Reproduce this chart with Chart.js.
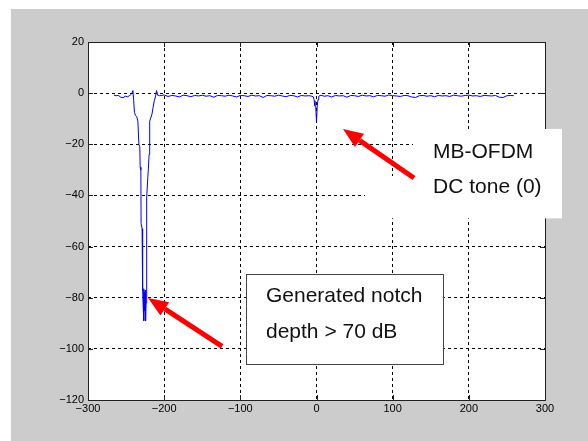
<!DOCTYPE html>
<html>
<head>
<meta charset="utf-8">
<script src="https://cdn.jsdelivr.net/npm/chart.js@4.4.1/dist/chart.umd.min.js"></script>
<style>
  html, body { margin: 0; padding: 0; background: #ffffff; overflow: hidden; }
  #wrap { position: relative; width: 588px; height: 441px; }
</style>
</head>
<body>
<div id="wrap"><canvas id="chart"></canvas></div>
<script>
const subcarrier = [
  -266, -263, -260, -257, -254, -251, -248, -245, -242.5, -241,
  -240, -239, -237.5, -236, -234.5, -233.2, -232, -231.5, -230.6, -230.3,
  -229, -228.6, -228, -227.5, -227, -226.6, -226, -225.5, -225, -224.4,
  -223.8, -223.1, -222.8, -221.5, -220.8, -219.8, -219, -217.5, -216, -214.5,
  -213, -211.5, -210, -208.5, -206, -200, -195, -190, -185, -180,
  -175, -170, -165, -160, -155, -150, -145, -140, -135, -130,
  -125, -120, -115, -110, -105, -100, -95, -90, -85, -80,
  -75, -70, -65, -60, -55, -50, -45, -40, -35, -30,
  -25, -20, -15, -10, -6, -4, -3, -2, -1, 0,
  1, 2, 3, 6, 10, 15, 20, 25, 30, 35,
  40, 45, 50, 55, 60, 65, 70, 75, 80, 85,
  90, 95, 100, 105, 110, 115, 120, 125, 130, 135,
  140, 145, 150, 155, 160, 165, 170, 175, 180, 185,
  190, 195, 200, 205, 210, 215, 220, 225, 230, 235,
  240, 245, 250, 255, 259
];
const gainDb = [
  -0.8, -1.0, -0.9, -1.6, -1.8, -1.2, -1.4, -0.9, -0.2, 1.0,
  -3, -7.5, -8.8, -9.2, -11, -20, -21, -29, -30, -51,
  -53, -76, -77, -84, -76.5, -89, -78, -85, -77, -89,
  -82, -80, -41, -33, -30, -24, -11, -9.6, -8.2, -5.5,
  -3, -1.5, 1.0, -0.8, -1.0, -0.7, -1.3, -0.9, -1.1, -1.5,
  -0.8, -1.0, -1.4, -0.9, -1.1, -0.8, -1.2, -1.0, -1.6, -0.9,
  -1.0, -1.2, -0.8, -1.1, -1.5, -0.9, -1.0, -1.3, -0.8, -1.1,
  -1.0, -1.7, -0.9, -1.0, -1.2, -0.8, -1.1, -1.4, -0.9, -1.0,
  -1.5, -0.9, -1.1, -1.0, -1.2, -1.5, -3, -5, -5.5, -11.3,
  -5, -2.5, -1.2, -0.8, -1.2, -1.0, -1.5, -0.9, -1.1, -1.0,
  -1.6, -0.9, -1.0, -1.3, -0.8, -1.1, -1.0, -1.4, -0.9, -1.0,
  -1.2, -0.7, -1.0, -1.1, -1.3, -0.9, -1.0, -1.5, -1.7, -1.0,
  -0.9, -1.2, -1.0, -1.4, -0.9, -1.1, -1.0, -1.3, -0.8, -1.0,
  -1.2, -0.9, -0.8, -1.1, -1.0, -1.3, -0.9, -1.0, -1.1, -0.9,
  -1.6, -1.7, -1.0, -0.9, -1.0
];

// axis limits / tick steps
const xRange = [-300, 300];
const yRange = [-120, 20];
const xStep = 100;
const yStep = 20;

// annotation texts
const notchText = ['Generated notch', 'depth > 70 dB'];
const dcText = ['MB-OFDM', 'DC tone (0)'];

const RED = '#ff0000';
const FONT = '"Liberation Sans", Arial, Helvetica, sans-serif';

const points = subcarrier.map((x, i) => ({ x: x, y: gainDb[i] }));

function drawArrow(ctx, x0, y0, x1, y1) {
  const ang = Math.atan2(y1 - y0, x1 - x0);
  const head = 20, half = 8;
  const bx = x1 - head * Math.cos(ang);
  const by = y1 - head * Math.sin(ang);
  ctx.strokeStyle = RED;
  ctx.lineWidth = 5;
  ctx.beginPath();
  ctx.moveTo(x0, y0);
  ctx.lineTo(bx, by);
  ctx.stroke();
  ctx.fillStyle = RED;
  ctx.beginPath();
  ctx.moveTo(x1, y1);
  ctx.lineTo(bx + half * Math.sin(ang), by - half * Math.cos(ang));
  ctx.lineTo(bx - half * Math.sin(ang), by + half * Math.cos(ang));
  ctx.closePath();
  ctx.fill();
}

// matlab-like figure: gray window, white axes, inward ticks, callouts
const figurePlugin = {
  id: 'figure',
  beforeDraw(chart) {
    const { ctx, chartArea: a } = chart;
    ctx.save();
    ctx.fillStyle = '#ffffff';
    ctx.fillRect(0, 0, chart.width, chart.height);
    ctx.fillStyle = '#cccccc';
    ctx.fillRect(11, 9, chart.width - 11, chart.height - 9);
    ctx.fillStyle = '#ffffff';
    ctx.fillRect(a.left, a.top, a.right - a.left, a.bottom - a.top);
    ctx.restore();
  },
  afterDraw(chart) {
    const { ctx, chartArea: a } = chart;
    const xs = chart.scales.x, ys = chart.scales.y;
    const px = v => xs.getPixelForValue(v);
    const py = v => ys.getPixelForValue(v);
    ctx.save();

    // frame
    ctx.strokeStyle = '#202020';
    ctx.lineWidth = 1;
    ctx.strokeRect(a.left + 0.5, a.top + 0.5, a.right - a.left, a.bottom - a.top);

    // inward tick marks
    ctx.beginPath();
    xs.ticks.forEach(t => {
      const x = Math.round(px(t.value)) + 0.5;
      ctx.moveTo(x, a.bottom); ctx.lineTo(x, a.bottom - 5);
      ctx.moveTo(x, a.top); ctx.lineTo(x, a.top + 5);
    });
    ys.ticks.forEach(t => {
      const y = Math.round(py(t.value)) + 0.5;
      ctx.moveTo(a.left, y); ctx.lineTo(a.left + 5, y);
      ctx.moveTo(a.right, y); ctx.lineTo(a.right - 5, y);
    });
    ctx.stroke();

    // notch callout box
    const nL = px(-92.6), nR = px(166), nT = py(-70.7), nB = py(-106);
    ctx.fillStyle = '#ffffff';
    ctx.fillRect(nL, nT, nR - nL, nB - nT);
    ctx.strokeStyle = '#444444';
    ctx.strokeRect(Math.round(nL) + 0.5, Math.round(nT) + 0.5, Math.round(nR - nL), Math.round(nB - nT));

    // DC callout (borderless white patch)
    ctx.fillStyle = '#ffffff';
    ctx.fillRect(px(126.7), py(-14), px(322.3) - px(126.7), py(-48.9) - py(-14));
    ctx.fillRect(px(63.7), py(-32.4), px(322.3) - px(63.7), py(-48.9) - py(-32.4));

    ctx.fillStyle = '#111111';
    ctx.font = '21px ' + FONT;
    ctx.textBaseline = 'middle';
    ctx.textAlign = 'left';
    ctx.fillText(notchText[0], px(-66.3), py(-79.3));
    ctx.fillText(notchText[1], px(-66.3), py(-93.4));
    ctx.fillText(dcText[0], px(153), py(-23));
    ctx.fillText(dcText[1], px(153), py(-36.7));

    // arrows
    drawArrow(ctx, px(-124), py(-99), px(-221.2), py(-80.1));
    drawArrow(ctx, px(128), py(-33.2), px(34.8), py(-14));
    ctx.restore();
  }
};

const minus = v => String(v).replace('-', '\u2212');

new Chart(document.getElementById('chart'), {
  type: 'scatter',
  data: {
    datasets: [{
      data: points,
      showLine: true,
      borderColor: '#0000ff',
      borderWidth: 1,
      pointRadius: 0,
      tension: 0,
      fill: false
    }]
  },
  options: {
    responsive: true,
    maintainAspectRatio: false,
    animation: false,
    events: [],
    layout: { padding: { left: 0, right: 43, top: 42, bottom: 0 } },
    plugins: {
      legend: { display: false },
      tooltip: { enabled: false }
    },
    scales: {
      x: {
        type: 'linear',
        min: xRange[0],
        max: xRange[1],
        afterFit: s => { s.height = 41; },
        ticks: {
          stepSize: xStep,
          color: '#000000',
          padding: 2,
          maxRotation: 0,
          font: { family: FONT, size: 11 },
          callback: minus
        },
        grid: { color: '#000000', lineWidth: 1, drawTicks: false },
        border: { display: false, dash: [3, 3] }
      },
      y: {
        type: 'linear',
        min: yRange[0],
        max: yRange[1],
        afterFit: s => { s.width = 88; },
        ticks: {
          stepSize: yStep,
          color: '#000000',
          padding: 4,
          font: { family: FONT, size: 11 },
          callback: minus
        },
        grid: { color: '#000000', lineWidth: 1, drawTicks: false },
        border: { display: false, dash: [3, 3] }
      }
    }
  },
  plugins: [figurePlugin]
});
</script>
</body>
</html>
